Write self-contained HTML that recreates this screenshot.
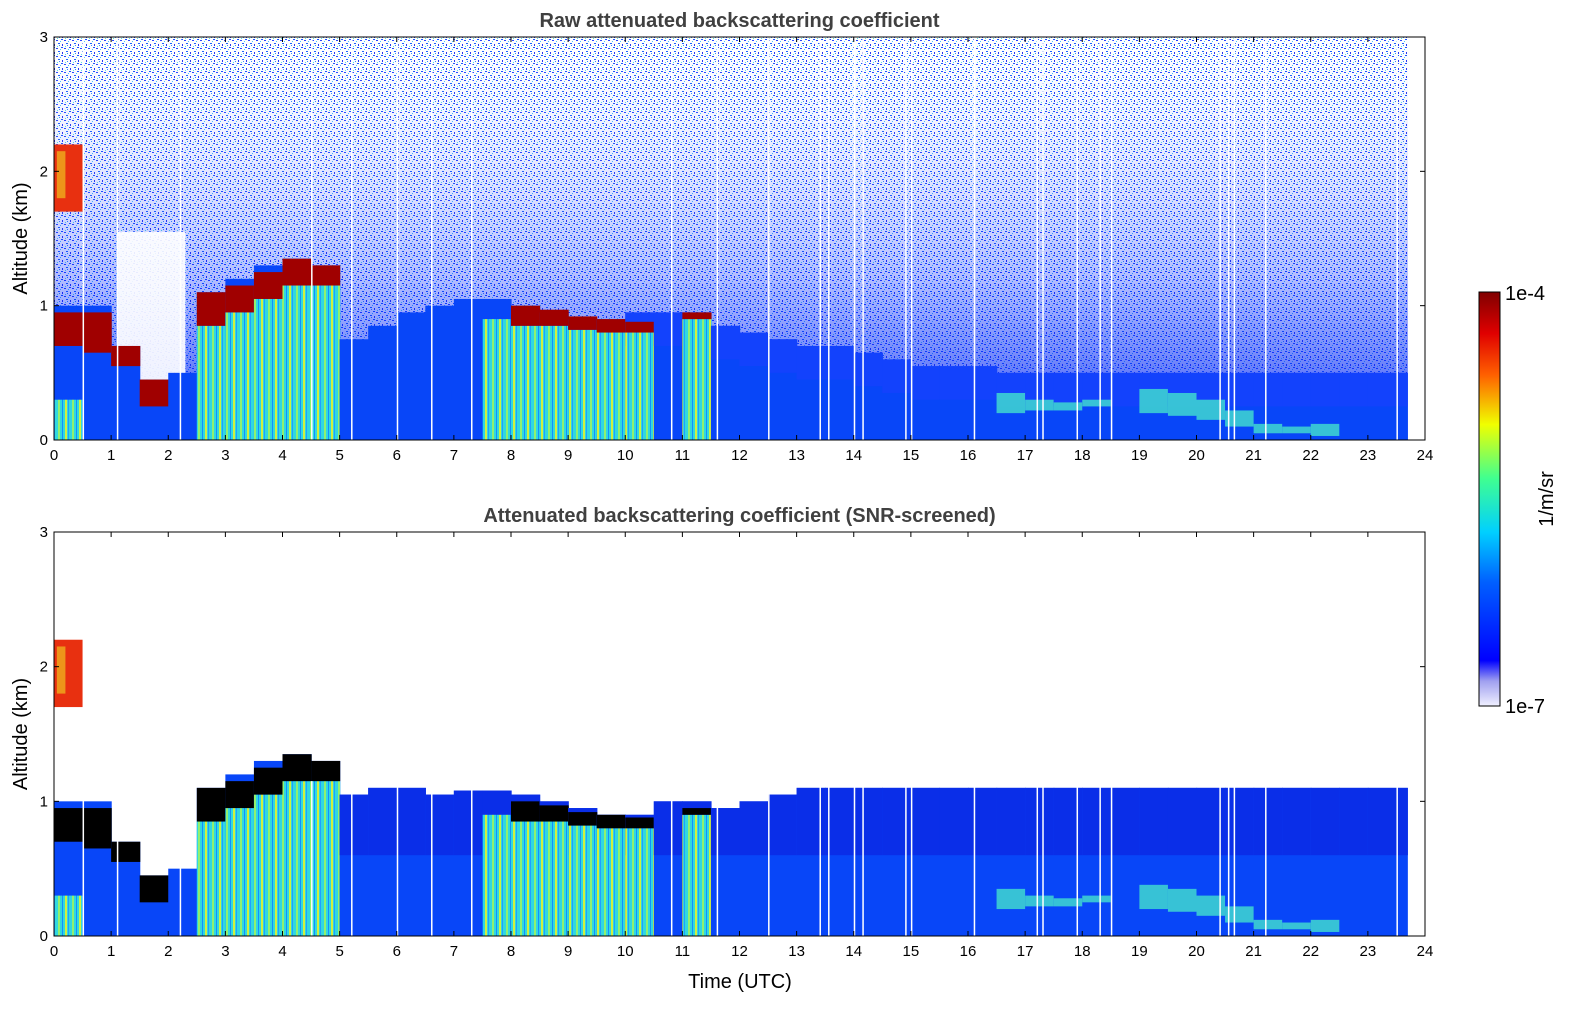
<!DOCTYPE html>
<html><head><meta charset="utf-8"><style>
html,body{margin:0;padding:0;width:1595px;height:1020px;overflow:hidden;background:#fff;font-family:"Liberation Sans",sans-serif;}
svg{display:block;position:absolute;left:0;top:0}
</style></head><body>
<svg id="c" width="1595" height="1020" viewBox="0 0 1595 1020" xmlns="http://www.w3.org/2000/svg">
<defs>
<pattern id="noise" width="8" height="8" patternUnits="userSpaceOnUse">
<rect width="8" height="8" fill="#ffffff"/>
<rect x="0" y="0" width="2" height="1" fill="#1030ff"/>
<rect x="4" y="1" width="1" height="1" fill="#30c0ff"/>
<rect x="2" y="3" width="2" height="1" fill="#0050ff"/>
<rect x="6" y="4" width="1" height="2" fill="#1020f0"/>
<rect x="1" y="6" width="1" height="1" fill="#40e0e0"/>
<rect x="5" y="7" width="2" height="1" fill="#0040ff"/>
<rect x="3" y="5" width="1" height="1" fill="#2080ff"/>
</pattern>
<linearGradient id="dens" x1="0" y1="0" x2="0" y2="1">
<stop offset="0" stop-color="#ffffff" stop-opacity="0.1"/>
<stop offset="0.6" stop-color="#2040ff" stop-opacity="0.35"/>
<stop offset="1" stop-color="#0830f0" stop-opacity="0.85"/>
</linearGradient>
<pattern id="aer" width="14" height="10" patternUnits="userSpaceOnUse">
<rect width="14" height="10" fill="#30d8e0"/>
<rect x="2" width="2" height="10" fill="#90f070"/>
<rect x="6" width="1" height="10" fill="#1090ff"/>
<rect x="9" width="2" height="10" fill="#d0f040"/>
<rect x="12" width="1" height="10" fill="#20a0ff"/>
</pattern>
<linearGradient id="cbar" x1="0" y1="1" x2="0" y2="0">
<stop offset="0" stop-color="#f0f0ff"/>
<stop offset="0.06" stop-color="#a0a0f0"/>
<stop offset="0.11" stop-color="#0000ff"/>
<stop offset="0.3" stop-color="#0060ff"/>
<stop offset="0.42" stop-color="#00d0ff"/>
<stop offset="0.55" stop-color="#40ff90"/>
<stop offset="0.68" stop-color="#f0ff00"/>
<stop offset="0.8" stop-color="#ff6000"/>
<stop offset="0.9" stop-color="#e00000"/>
<stop offset="1" stop-color="#800000"/>
</linearGradient>
</defs>
</svg>
<script>
const times=[0,0.5,1,1.5,2,2.5,3,3.5,4,4.5,5,5.5,6,6.5,7,7.5,8,8.5,9,9.5,10,10.5,11,11.5,12,12.5,13,13.5,14,14.5,15,15.5,16,16.5,17,17.5,18,18.5,19,19.5,20,20.5,21,21.5,22,22.5,23,23.5];
const blTop=[1.0,1.0,0.7,0.45,0.5,1.1,1.2,1.3,1.35,1.3,0.75,0.85,0.95,1.0,1.05,1.05,1.0,0.95,0.9,0.9,0.95,0.95,0.95,0.85,0.8,0.75,0.7,0.7,0.65,0.6,0.55,0.55,0.55,0.5,0.5,0.5,0.5,0.5,0.5,0.5,0.5,0.5,0.5,0.5,0.5,0.5,0.5,0.5];
const blTopScreened=[1.0,1.0,0.7,0.45,0.5,1.1,1.2,1.3,1.35,1.3,1.05,1.1,1.1,1.05,1.08,1.08,1.05,1.0,0.95,0.9,0.9,1.0,1.0,0.95,1.0,1.05,1.1,1.1,1.1,1.1,1.1,1.1,1.1,1.1,1.1,1.1,1.1,1.1,1.1,1.1,1.1,1.1,1.1,1.1,1.1,1.1,1.1,1.1];
const cloudBase=[0.7,0.65,0.55,0.25,0,0.85,0.95,1.05,1.15,1.15,0,0,0,0,0,0,0.85,0.85,0.82,0.8,0.8,0,0.9,0,0,0,0,0,0,0,0,0,0,0,0,0,0,0,0,0,0,0,0,0,0,0,0,0];
const cloudTop=[0.95,0.95,0.7,0.45,0,1.1,1.15,1.25,1.35,1.3,0,0,0,0,0,0,1.0,0.97,0.92,0.9,0.88,0,0.95,0,0,0,0,0,0,0,0,0,0,0,0,0,0,0,0,0,0,0,0,0,0,0,0,0];
const aerTop=[0.3,0,0,0,0,0.85,0.95,1.05,1.15,1.15,0,0,0,0,0,0.9,0.85,0.85,0.82,0.8,0.8,0,0.9,0,0,0,0,0,0,0,0,0,0,0,0,0,0,0,0,0,0,0,0,0,0,0,0,0];
const plumeBase=[0,0,0,0,0,0,0,0,0,0,0,0,0,0,0,0,0,0,0,0,0,0,0,0,0,0,0,0,0,0,0,0,0,0.2,0.22,0.22,0.25,0,0.2,0.18,0.15,0.1,0.05,0.05,0.03,0,0,0];
const plumeTop=[0,0,0,0,0,0,0,0,0,0,0,0,0,0,0,0,0,0,0,0,0,0,0,0,0,0,0,0,0,0,0,0,0,0.35,0.3,0.28,0.3,0,0.38,0.35,0.3,0.22,0.12,0.1,0.12,0,0,0];
const gaps=[0.5,1.1,2.2,4.5,5.2,6.0,6.6,7.3,10.8,11.6,12.5,13.4,13.55,14.0,14.15,14.9,15.0,16.1,17.2,17.3,17.9,18.3,18.5,20.4,20.55,20.65,21.2,23.5];
const xTicks=[0,1,2,3,4,5,6,7,8,9,10,11,12,13,14,15,16,17,18,19,20,21,22,23,24];
const yTicks=[0,1,2,3];
const NS="http://www.w3.org/2000/svg";
const svg=document.getElementById('c');
const X0=54,X1=1425,tEnd=23.7;
const x=t=>X0+t*(X1-X0)/24;
function mk(tag,attrs,parent){const e=document.createElementNS(NS,tag);for(const k in attrs)e.setAttribute(k,attrs[k]);(parent||svg).appendChild(e);return e;}
function panel(top,bot,screened,title,pname){
 const y=v=>bot-v*(bot-top)/3;
 const g=mk('g',{});
 
 
 if(!screened){
  const n=mk('rect',{x:X0,y:top,width:x(tEnd)-X0,height:bot-top,fill:'url(#noise)'},g);
  
  mk('rect',{x:X0,y:top,width:x(tEnd)-X0,height:bot-top,fill:'url(#dens)'},g);
  mk('rect',{x:x(1.1),y:y(1.55),width:x(2.3)-x(1.1),height:y(0.4)-y(1.55),fill:'#fff',opacity:0.9},g);
 }
 times.forEach((t,i)=>{
  const w=x(t+0.5)-x(t)+0.6, xx=x(t), ww=Math.min(w,x(tEnd)-xx);
  if(ww<=0)return;
  const bt=screened?blTopScreened[i]:blTop[i];
  const r=mk('rect',{x:xx,y:y(bt),width:ww,height:y(0)-y(bt),fill:'#0846f8'},g);
  
  if(screened&&t>=5){mk('rect',{x:xx,y:y(bt),width:ww,height:y(0.6)-y(bt),fill:'#0a2ee8'},g);}
  if(!screened&&t>=10){mk('rect',{x:xx,y:y(bt),width:ww,height:y(Math.max(0,bt-0.25))-y(bt),fill:'#1a40ff',opacity:0.6},g);}
  if(aerTop[i]>0){const a=mk('rect',{x:xx,y:y(aerTop[i]),width:ww,height:y(0)-y(aerTop[i]),fill:'url(#aer)'},g);
   }
  if(cloudTop[i]>0){const c=mk('rect',{x:xx,y:y(cloudTop[i]),width:ww,height:y(cloudBase[i])-y(cloudTop[i]),fill:screened?'#000':'#a00000'},g);
   }
  if(plumeTop[i]>0){const p=mk('rect',{x:xx,y:y(plumeTop[i]),width:ww,height:y(plumeBase[i])-y(plumeTop[i]),fill:'#40d8d0',opacity:0.85},g);
   }
 });
 const uc=mk('rect',{x:x(0),y:y(2.2),width:x(0.5)-x(0),height:y(1.7)-y(2.2),fill:'#e83010'},g);
 
 mk('rect',{x:x(0.05),y:y(2.15),width:x(0.15)-x(0),height:y(1.8)-y(2.15),fill:'#f0c020',opacity:0.7},g);
 gaps.forEach(t=>{const l=mk('rect',{x:x(t),y:screened?y(1.15):top,width:1.5,height:screened?y(0)-y(1.15):bot-top,fill:'#fff'},g);
  });
 const f=mk('rect',{x:X0,y:top,width:X1-X0,height:bot-top,fill:'none',stroke:'#000','stroke-width':1},g);
 
 xTicks.forEach(v=>{mk('line',{x1:x(v),x2:x(v),y1:bot,y2:bot-5,stroke:'#000'},g);mk('line',{x1:x(v),x2:x(v),y1:top,y2:top+5,stroke:'#000'},g);
  const tx=mk('text',{x:x(v),y:bot+20,'font-size':15,'text-anchor':'middle'},g);tx.textContent=v;
  });
 yTicks.forEach(v=>{mk('line',{x1:X0,x2:X0+5,y1:y(v),y2:y(v),stroke:'#000'},g);mk('line',{x1:X1,x2:X1-5,y1:y(v),y2:y(v),stroke:'#000'},g);
  const tx=mk('text',{x:X0-6,y:y(v)+5,'font-size':15,'text-anchor':'end'},g);tx.textContent=v;
  });
 const ti=mk('text',{x:(X0+X1)/2,y:top-10,'font-size':20,'font-weight':'bold','text-anchor':'middle',fill:'#404040'},g);ti.textContent=title;
 
 const yl=mk('text',{x:27,y:(top+bot)/2,'font-size':20,'text-anchor':'middle',transform:`rotate(-90 27 ${(top+bot)/2})`},g);yl.textContent='Altitude (km)';
 
}
panel(37,440,false,'Raw attenuated backscattering coefficient','raw-panel');
panel(532,936,true,'Attenuated backscattering coefficient (SNR-screened)','screened-panel');
const xl=mk('text',{x:740,y:988,'font-size':20,'text-anchor':'middle'});xl.textContent='Time (UTC)';

const cb=mk('rect',{x:1479,y:292,width:21,height:414,fill:'url(#cbar)',stroke:'#000'});

const c1=mk('text',{x:1505,y:300,'font-size':20});c1.textContent='1e-4';

const c2=mk('text',{x:1505,y:713,'font-size':20});c2.textContent='1e-7';

const c3=mk('text',{x:1553,y:499,'font-size':20,'text-anchor':'middle',transform:'rotate(-90 1553 499)'});c3.textContent='1/m/sr';

</script>
</body></html>
